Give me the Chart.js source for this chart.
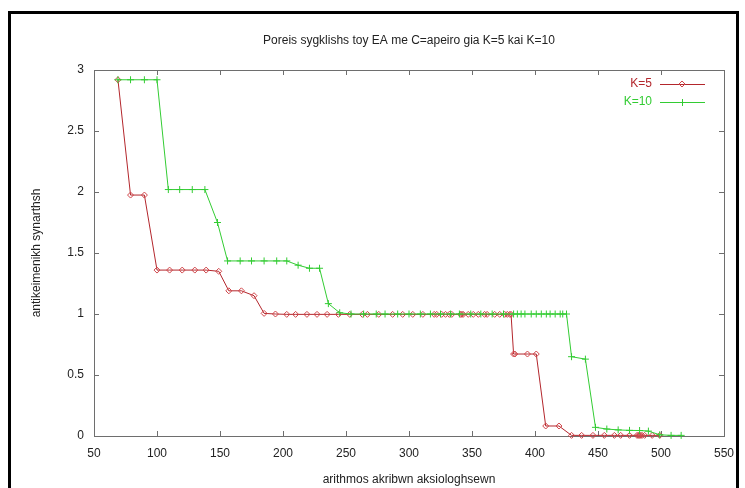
<!DOCTYPE html>
<html>
<head>
<meta charset="utf-8">
<script src="https://cdn.jsdelivr.net/npm/chart.js@4/dist/chart.umd.min.js"></script>
<style>
    html, body { margin: 0; padding: 0; background: #fff; }
    body { width: 745px; height: 488px; overflow: hidden; position: relative; }
    #frame { position: absolute; left: 8px; top: 11px; width: 731px; height: 500px; border: 3px solid #000; box-sizing: border-box; }
    #wrap { position: absolute; left: 0; top: 0; width: 745px; height: 488px; }
</style>
</head>
<body>
<div id="frame"></div>
<div id="wrap"><canvas id="convChart" width="745" height="488"></canvas></div>
<script>
// Convergence paths of the EA (C = infinity) for K=5 and K=10

const xTicks = [50, 100, 150, 200, 250, 300, 350, 400, 450, 500, 550];
const yTicks = [0, 0.5, 1, 1.5, 2, 2.5, 3];

// K=5 : number of exact evaluations / objective value
const k5Evals = [69, 79, 90, 100, 110, 120, 130, 139, 149, 157, 167, 177, 185, 194, 203, 210, 219, 227,
    235, 244, 253, 263, 267, 276, 287, 295, 303, 311, 320, 322, 326, 329, 332, 334, 341, 342, 343, 347,
    351, 355, 360, 362, 368, 372, 376, 378, 380, 381, 383, 384, 394, 401, 408.5, 419, 429, 437, 446,
    455, 463, 468, 475, 481, 482, 483, 484, 485, 487, 493, 499];
const k5Values = [2.92, 1.975, 1.975, 1.36, 1.36, 1.36, 1.36, 1.36, 1.35, 1.19, 1.19, 1.15, 1.005, 1.0,
    0.997, 0.997, 0.997, 0.997, 0.997, 0.997, 0.997, 0.997, 0.997, 0.997, 0.997, 0.997, 0.997, 0.997,
    0.997, 0.997, 0.997, 0.997, 0.997, 0.997, 0.997, 0.997, 0.997, 0.997, 0.997, 0.997, 0.997, 0.997,
    0.997, 0.997, 0.997, 0.997, 0.997, 0.997, 0.672, 0.672, 0.672, 0.672, 0.082, 0.082, 0.005, 0.005,
    0.005, 0.005, 0.005, 0.005, 0.005, 0.005, 0.005, 0.005, 0.005, 0.005, 0.005, 0.005, 0.005];

// K=10
const k10Evals = [69, 79, 90, 100, 109, 118, 128, 138, 148, 156, 166, 175, 185, 195, 203, 212, 221, 229,
    236, 245, 254, 264, 274, 281, 291, 300, 309, 317, 325, 333, 340, 349, 357, 366, 375, 383, 386, 389,
    392, 397, 401, 405, 409, 412, 416, 420, 422, 425, 429, 440, 448, 457, 466, 475, 483, 490, 499, 508, 516];
const k10Values = [2.92, 2.92, 2.92, 2.92, 2.02, 2.02, 2.02, 2.02, 1.75, 1.435, 1.435, 1.435, 1.435,
    1.435, 1.435, 1.40, 1.375, 1.375, 1.085, 1.01, 1.0, 1.0, 1.0, 1.0, 1.0, 1.0, 1.0, 1.0, 1.0, 1.0,
    1.0, 1.0, 1.0, 1.0, 1.0, 1.0, 1.0, 1.0, 1.0, 1.0, 1.0, 1.0, 1.0, 1.0, 1.0, 1.0, 1.0, 1.0, 0.65,
    0.63, 0.071, 0.057, 0.05, 0.046, 0.045, 0.04, 0.01, 0.005, 0.005];

const textFont = { family: '"Liberation Sans", Arial, sans-serif', size: 12, weight: 'normal' };
const textColor = '#222';

function toPoints(xs, ys) {
    return xs.map((x, i) => ({ x: x, y: ys[i] }));
}

// gnuplot style border with inward ticks on all four sides
const plotFrame = {
    id: 'plotFrame',
    beforeDatasetsDraw(chart) {
        const { ctx, chartArea: a, scales: { x, y } } = chart;
        ctx.save();
        ctx.strokeStyle = '#6e6e6e';
        ctx.lineWidth = 1;
        ctx.strokeRect(Math.round(a.left) + 0.5, Math.round(a.top) + 0.5,
            Math.round(a.right - a.left), Math.round(a.bottom - a.top));
        ctx.beginPath();
        xTicks.forEach(v => {
            const px = Math.round(x.getPixelForValue(v)) + 0.5;
            ctx.moveTo(px, a.bottom); ctx.lineTo(px, a.bottom - 5);
            ctx.moveTo(px, a.top); ctx.lineTo(px, a.top + 5);
        });
        yTicks.forEach(v => {
            const py = Math.round(y.getPixelForValue(v)) + 0.5;
            ctx.moveTo(a.left, py); ctx.lineTo(a.left + 5, py);
            ctx.moveTo(a.right, py); ctx.lineTo(a.right - 5, py);
        });
        ctx.stroke();
        ctx.restore();
    }
};

// legend in the top right corner: text, then a sample line with its marker
const keyBox = {
    id: 'keyBox',
    afterDraw(chart) {
        const { ctx } = chart;
        ctx.save();
        ctx.font = '12px "Liberation Sans", Arial, sans-serif';
        ctx.textAlign = 'right';
        ctx.textBaseline = 'middle';
        chart.data.datasets.forEach((ds, i) => {
            const ly = 84 + i * 18;
            ctx.fillStyle = ds.borderColor;
            ctx.fillText(ds.label, 652, ly);
            ctx.strokeStyle = ds.borderColor;
            ctx.lineWidth = 1;
            ctx.beginPath();
            ctx.moveTo(660, ly + 0.5); ctx.lineTo(705, ly + 0.5);
            ctx.stroke();
            ctx.strokeStyle = ds.pointBorderColor;
            ctx.beginPath();
            if (ds.pointStyle === 'rectRot') {
                ctx.moveTo(682, ly - 3); ctx.lineTo(685, ly); ctx.lineTo(682, ly + 3); ctx.lineTo(679, ly); ctx.closePath();
            } else {
                ctx.moveTo(682.5, ly - 3); ctx.lineTo(682.5, ly + 4);
            }
            ctx.stroke();
        });
        ctx.restore();
    }
};

new Chart(document.getElementById('convChart').getContext('2d'), {
    type: 'line',
    data: {
        datasets: [{
            label: 'K=5',
            data: toPoints(k5Evals, k5Values),
            borderColor: '#b3262c',
            borderWidth: 1,
            pointStyle: 'rectRot',
            pointRadius: 3,
            pointBorderColor: '#d0464a',
            pointBackgroundColor: 'rgba(255,255,255,0)',
            pointBorderWidth: 1,
            tension: 0,
            clip: 8,
            order: 1
        }, {
            label: 'K=10',
            data: toPoints(k10Evals, k10Values),
            borderColor: '#33cc33',
            borderWidth: 1,
            pointStyle: 'cross',
            pointRadius: 3.5,
            pointBorderColor: '#33cc33',
            pointBorderWidth: 1,
            tension: 0,
            clip: 8,
            order: 0
        }]
    },
    options: {
        responsive: false,
        animation: false,
        events: [],
        layout: { padding: { left: 0, right: 21, top: 0, bottom: 0 } },
        plugins: {
            legend: { display: false },
            tooltip: { enabled: false },
            title: {
                display: true,
                fullSize: false,
                text: 'Poreis sygklishs toy EA me C=apeiro gia K=5 kai K=10',
                color: textColor,
                font: textFont,
                padding: { top: 33, bottom: 22.6 }
            }
        },
        scales: {
            x: {
                type: 'linear',
                min: 50,
                max: 550,
                afterBuildTicks: s => { s.ticks = xTicks.map(v => ({ value: v })); },
                afterFit: s => { s.height = 52; },
                grid: { display: false, drawTicks: false },
                border: { display: false },
                ticks: { padding: 10, color: textColor, font: textFont, maxRotation: 0, autoSkip: false,
                    callback: v => String(v) },
                title: {
                    display: true,
                    text: 'arithmos akribwn aksiologhsewn',
                    color: textColor,
                    font: textFont,
                    padding: { top: 0, bottom: 1 }
                }
            },
            y: {
                type: 'linear',
                min: 0,
                max: 3,
                afterBuildTicks: s => { s.ticks = yTicks.map(v => ({ value: v })); },
                afterFit: s => { s.width = 94; },
                grid: { display: false, drawTicks: false },
                border: { display: false },
                ticks: { padding: 10, color: textColor, font: textFont, autoSkip: false,
                    callback: v => String(v) },
                title: {
                    display: true,
                    text: 'antikeimenikh synarthsh',
                    color: textColor,
                    font: textFont,
                    padding: { top: 29, bottom: 0 }
                }
            }
        }
    },
    plugins: [plotFrame, keyBox]
});
</script>
</body>
</html>
